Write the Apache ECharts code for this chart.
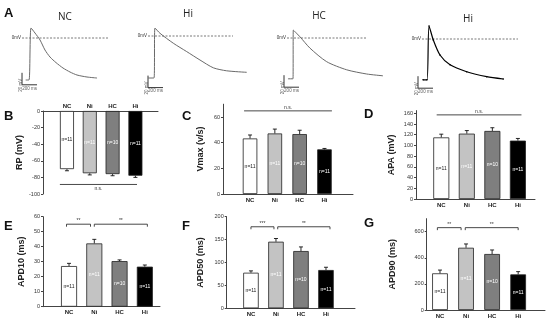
<!DOCTYPE html>
<html><head><meta charset="utf-8">
<script src="https://cdn.jsdelivr.net/npm/echarts@6/dist/echarts.min.js"></script>
<style>html,body{margin:0;padding:0;background:#fff}#c{width:550px;height:326px}</style>
</head><body><div id="c"></div><script>
// ---------- data ----------
const categories = ['NC', 'Ni', 'HC', 'Hi'];
const nLabels = ['n=11', 'n=11', 'n=10', 'n=11'];
const traceTitles = ['NC', 'Hi', 'HC', 'Hi'];
// Panel A action potential traces [ms, mV]
const traceNC = [[-44,-70],[0,-70],[27,16.7],[80,8.3],[147,-3.3],[213,-20],[280,-31.7],[360,-41],[453,-50],[547,-56.7],[640,-61.7],[773,-65],[907,-66.7]];
const traceHi = [[-80,-70],[0,-70],[13,13.3],[80,4.5],[257,-12],[436,-26],[613,-40],[791,-53],[969,-58],[1236,-60.5]];
const traceHC = [[-67,-68],[0,-68],[4,13.3],[93,2],[227,-17],[449,-39.5],[716,-53],[983,-60],[1200,-63]];
const traceHi2 = [[-53,-68],[0,-68],[27,21.7],[84,-1.7],[173,-26.7],[307,-43],[529,-54.5],[796,-62.8],[1017,-66.7]];
const zeroSpans = [[-93,1053],[-80,1053],[-80,987],[-67,1213]];      // 0 mV dashed line, ms
const scaleBars = [[-93,-58,-78],[-80,-66,-86],[-120,-62,-82],[-120,-62,-82]]; // x, top mV, bottom mV
const scaleMs = 200, scaleMv = 20;
// Panels B-G: mean and SEM
const rpMean = [-70, -75, -76, -78];      const rpErr = [2, 2, 2, 2];
const vmaxMean = [43.3, 47.2, 46.7, 34.8]; const vmaxErr = [2.7, 3.4, 3, 0.7];
const apaMean = [115, 122, 127, 109];     const apaErr = [6, 5.7, 6, 4];
const apd10Mean = [27.1, 42.2, 30.4, 26.7]; const apd10Err = [1.8, 2.7, 0.8, 1.1];
const apd50Mean = [77.7, 145.4, 125, 83.6]; const apd50Err = [4, 7, 9, 6];
const apd90Mean = [281, 477, 429, 273];   const apd90Err = [25, 29, 31, 21];
// significance: [x1, y, x2], labels separately
const rpSig = [[-0.31, -88.5, 3.07]];     const rpSigText = ['n.s.'];
const vmaxSig = [[-0.24, 64.8, 3.3]];     const vmaxSigText = ['n.s.'];
const apaSig = [[-0.18, 157, 3.14]];      const apaSigText = ['n.s.'];
const apd10Sig = [[-0.1, 55, 0.85], [1.0, 55, 3.1]];   const apd10SigText = ['**', '**'];
const apd50Sig = [[0, 178, 0.92], [1.07, 178, 3.16]];  const apd50SigText = ['***', '**'];
const apd90Sig = [[-0.1, 631, 0.81], [0.97, 631, 3.0]]; const apd90SigText = ['**', '**'];
// tick labels
const rpTicks = [-100, -80, -60, -40, -20, 0];
const vmaxTicks = [0, 20, 40, 60];
const apaTicks = [0, 20, 40, 60, 80, 100, 120, 140, 160];
const apd10Ticks = [0, 10, 20, 30, 40, 50, 60];
const apd50Ticks = [0, 50, 100, 150, 200];
const apd90Ticks = [0, 200, 400, 600];

// ---------- styles ----------
const FONT = 'Liberation Sans, Arial, sans-serif';
const barColors = ['#ffffff', '#c3c3c3', '#7f7f7f', '#000000'];
const nColors = ['#222', '#fff', '#fff', '#fff'];

const chart = echarts.init(document.getElementById('c'));
const grids = [], xAxes = [], yAxes = [], series = [];

// ---------- Panel A ----------
const traceData = [traceNC, traceHi, traceHC, traceHi2];
const traceLayout = [{up: 29, y0: 38}, {up: 154, y0: 36}, {up: 293, y0: 38}, {up: 427, y0: 39}];
traceData.forEach((tr, i) => {
  const L = traceLayout[i];
  grids.push({left: L.up - 11.25, top: L.y0 - 24, width: 108.75, height: 84});
  xAxes.push({gridIndex: i, type: 'value', min: -150, max: 1300, show: false});
  yAxes.push({gridIndex: i, type: 'value', min: -100, max: 40, show: false});
  const last = i === 3;
  series.push({
    type: 'line', xAxisIndex: i, yAxisIndex: i, data: tr, smooth: 0.25,
    showSymbol: last, symbol: 'circle', symbolSize: 1.6,
    itemStyle: {color: last ? '#000' : '#6a6a6a'},
    lineStyle: {color: last ? '#000' : '#6a6a6a', width: last ? 1.2 : 1}, z: 3, silent: true
  });
  const z = zeroSpans[i];
  series.push({
    type: 'line', xAxisIndex: i, yAxisIndex: i, symbol: 'circle', symbolSize: 0, showSymbol: true,
    data: [{value: [z[0], 0], label: {show: true, position: 'left', distance: 1, formatter: '0mV',
      fontSize: 4.5, color: '#333', fontFamily: FONT}}, [z[1], 0]],
    lineStyle: {color: '#555', width: 0.8, type: [2, 1.5]}, z: 2, silent: true
  });
  const s = scaleBars[i];
  series.push({
    type: 'line', xAxisIndex: i, yAxisIndex: i, showSymbol: false,
    data: [[s[0], s[1]], [s[0], s[2]], [s[0] + scaleMs, s[2]]],
    lineStyle: {color: '#333', width: 1}, z: 2, silent: true
  });
  series.push({
    type: 'scatter', xAxisIndex: i, yAxisIndex: i, symbolSize: 0, silent: true,
    data: [
      {value: [s[0], (s[1] + s[2]) / 2], label: {show: true, position: 'left', distance: 1, rotate: 90,
        formatter: scaleMv + ' mV', fontSize: 4.5, color: '#333', fontFamily: FONT}},
      {value: [s[0] + scaleMs / 2, s[2]], label: {show: true, position: 'bottom', distance: 1,
        formatter: scaleMs + ' ms', fontSize: 4.5, color: '#333', fontFamily: FONT}}
    ]
  });
});

// ---------- Panels B-G ----------
function errRender(params, api) {
  const x = api.value(0), m = api.value(1), e = api.value(2);
  const p0 = api.coord([x, m]), p1 = api.coord([x, m + e]);
  const hw = 2;
  return {type: 'group', children: [
    {type: 'line', shape: {x1: p0[0], y1: p0[1], x2: p1[0], y2: p1[1]}, style: {stroke: '#111', lineWidth: 0.9}},
    {type: 'line', shape: {x1: p1[0] - hw, y1: p1[1], x2: p1[0] + hw, y2: p1[1]}, style: {stroke: '#111', lineWidth: 0.9}}
  ]};
}
function sigRender(texts, below, ticks) {
  return function (params, api) {
    const a = api.coord([api.value(0), api.value(1)]);
    const b = api.coord([api.value(2), api.value(1)]);
    const ch = [{type: 'line', shape: {x1: a[0], y1: a[1], x2: b[0], y2: b[1]}, style: {stroke: '#333', lineWidth: 0.9}}];
    if (ticks) {
      ch.push({type: 'line', shape: {x1: a[0], y1: a[1], x2: a[0], y2: a[1] + 2.5}, style: {stroke: '#333', lineWidth: 0.9}});
      ch.push({type: 'line', shape: {x1: b[0], y1: b[1], x2: b[0], y2: b[1] + 2.5}, style: {stroke: '#333', lineWidth: 0.9}});
    }
    ch.push({type: 'text', x: (a[0] + b[0]) / 2, y: below ? a[1] + 1.5 : a[1] - 1,
      style: {text: texts[params.dataIndex], fontSize: 5, fontFamily: FONT, fill: '#333',
        align: 'center', verticalAlign: below ? 'top' : 'bottom'}});
    return {type: 'group', children: ch};
  };
}

const barPanels = [
  {mean: rpMean, err: rpErr, sign: -1, name: 'RP (mV)', ticks: rpTicks, yMin: -100, yMax: 0, top: true,
   grid: {left: 43, top: 111, width: 115, height: 83}, xMin: -1.05, xMax: 3.99, bw: 14, gap: 18.5,
   sig: rpSig, sigText: rpSigText, below: true, tk: false},
  {mean: vmaxMean, err: vmaxErr, sign: 1, name: 'Vmax (v/s)', ticks: vmaxTicks, yMin: 0, yMax: 70,
   grid: {left: 223, top: 104.2, width: 130, height: 89.8}, xMin: -1.09, xMax: 4.15, bw: 14.5, gap: 18,
   sig: vmaxSig, sigText: vmaxSigText, below: false, tk: false},
  {mean: apaMean, err: apaErr, sign: 1, name: 'APA (mV)', ticks: apaTicks, yMin: 0, yMax: 165,
   grid: {left: 416, top: 110.6, width: 119, height: 88.4}, xMin: -0.99, xMax: 3.67, bw: 16, gap: 19.5,
   sig: apaSig, sigText: apaSigText, below: false, tk: false},
  {mean: apd10Mean, err: apd10Err, sign: 1, name: 'APD10 (ms)', ticks: apd10Ticks, yMin: 0, yMax: 60,
   grid: {left: 43, top: 216.7, width: 117, height: 90}, xMin: -1.03, xMax: 3.6, bw: 16, gap: 16.5,
   sig: apd10Sig, sigText: apd10SigText, below: false, tk: true},
  {mean: apd50Mean, err: apd50Err, sign: 1, name: 'APD50 (ms)', ticks: apd50Ticks, yMin: 0, yMax: 200,
   grid: {left: 226.7, top: 216.7, width: 128.3, height: 91.6}, xMin: -0.97, xMax: 4.16, bw: 15.5, gap: 22,
   sig: apd50Sig, sigText: apd50SigText, below: false, tk: true},
  {mean: apd90Mean, err: apd90Err, sign: 1, name: 'APD90 (ms)', ticks: apd90Ticks, yMin: 0, yMax: 700,
   grid: {left: 426.7, top: 218.65, width: 118.3, height: 91.35}, xMin: -0.51, xMax: 4.03, bw: 15.7, gap: 30,
   sig: apd90Sig, sigText: apd90SigText, below: false, tk: true}
];

barPanels.forEach((P, k) => {
  const g = 4 + k;
  grids.push(P.grid);
  xAxes.push({
    gridIndex: g, type: 'value', min: P.xMin, max: P.xMax, position: P.top ? 'top' : 'bottom',
    axisLine: {show: true, onZero: false, lineStyle: {color: '#444', width: 1}},
    axisTick: {show: false}, splitLine: {show: false},
    axisLabel: {show: true, customValues: [0, 1, 2, 3], formatter: v => categories[Math.round(v)] || '',
      fontSize: 6, fontWeight: 'bold', color: '#222', fontFamily: FONT, margin: P.top ? 1.5 : 3}
  });
  yAxes.push({
    gridIndex: g, type: 'value', min: P.yMin, max: P.yMax, position: 'left',
    name: P.name, nameLocation: 'middle', nameGap: P.gap,
    nameTextStyle: {fontSize: 9, fontWeight: 'bold', color: '#222', fontFamily: FONT},
    axisLine: {show: true, onZero: false, lineStyle: {color: '#444', width: 1}},
    axisTick: {show: true, length: 2, customValues: P.ticks, lineStyle: {color: '#444'}},
    axisLabel: {customValues: P.ticks, fontSize: 5.5, color: '#333', fontFamily: FONT, margin: 3},
    splitLine: {show: false}
  });
  series.push({
    type: 'bar', xAxisIndex: g, yAxisIndex: g, barWidth: P.bw, silent: true,
    data: P.mean.map((m, i) => ({
      value: [i, m],
      itemStyle: {color: barColors[i], borderColor: '#222', borderWidth: 0.8},
      label: {show: true, position: 'inside', formatter: nLabels[i], fontSize: 5,
        color: nColors[i], fontFamily: FONT}
    })), z: 2
  });
  series.push({
    type: 'custom', xAxisIndex: g, yAxisIndex: g, silent: true, z: 3,
    data: P.mean.map((m, i) => [i, m, P.err[i] * P.sign]), renderItem: errRender
  });
  series.push({
    type: 'custom', xAxisIndex: g, yAxisIndex: g, silent: true, z: 4,
    data: P.sig, renderItem: sigRender(P.sigText, P.below, P.tk)
  });
});

// ---------- titles ----------
const letter = (t, l, tp) => ({text: t, left: l, top: tp, padding: 0,
  textStyle: {fontSize: 13, fontWeight: 'bold', color: '#111', fontFamily: FONT}});
const traceTitlePos = [[65, 12], [188, 9], [319, 11], [468, 14]];
const titles = [
  letter('A', 4, 7), letter('B', 4, 110), letter('C', 182, 110), letter('D', 364, 108),
  letter('E', 4, 220), letter('F', 182, 220), letter('G', 364, 217)
].concat(traceTitles.map((t, i) => ({text: t, left: traceTitlePos[i][0], top: traceTitlePos[i][1],
  textAlign: 'center', padding: 0,
  textStyle: {fontSize: 10, fontWeight: 'normal', color: '#222', fontFamily: 'Open Sans, ' + FONT}})));

chart.setOption({
  animation: false, backgroundColor: '#fff',
  title: titles, grid: grids, xAxis: xAxes, yAxis: yAxes, series: series
});
</script></body></html>
